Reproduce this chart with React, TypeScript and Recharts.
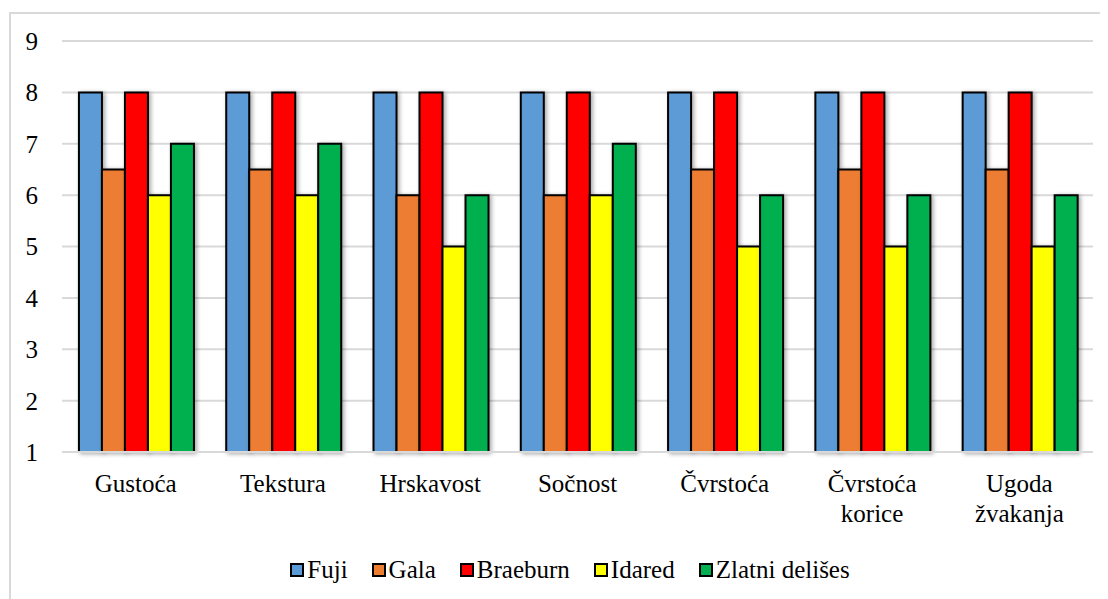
import { BarChart, Bar, XAxis, YAxis, CartesianGrid, Legend } from 'recharts'

const categories = ['Gustoća', 'Tekstura', 'Hrskavost', 'Sočnost', 'Čvrstoća', 'Čvrstoća korice', 'Ugoda žvakanja']
const fuji = [8, 8, 8, 8, 8, 8, 8]
const gala = [6.5, 6.5, 6, 6, 6.5, 6.5, 6.5]
const braeburn = [8, 8, 8, 8, 8, 8, 8]
const idared = [6, 6, 5, 6, 5, 5, 5]
const zlatni = [7, 7, 6, 7, 6, 6, 6]
const yTicks = [1, 2, 3, 4, 5, 6, 7, 8, 9]

const series = [
  { key: 'fuji', name: 'Fuji', color: '#5B9BD5' },
  { key: 'gala', name: 'Gala', color: '#ED7D31' },
  { key: 'braeburn', name: 'Braeburn', color: '#FF0000' },
  { key: 'idared', name: 'Idared', color: '#FFFF00' },
  { key: 'zlatni', name: 'Zlatni delišes', color: '#00B050' },
]

const data = categories.map((name, i) => ({
  name,
  fuji: fuji[i],
  gala: gala[i],
  braeburn: braeburn[i],
  idared: idared[i],
  zlatni: zlatni[i],
}))

const FONT = '"Liberation Serif", "Times New Roman", Times, serif'

// two-word categories go on two lines, like the original
function CategoryTick({ x, y, payload }: any) {
  const lines = String(payload.value).split(' ')
  return (
    <text x={x} y={y} textAnchor="middle" fontFamily={FONT} fontSize={25} fill="#000">
      {lines.map((l, i) => (
        <tspan key={i} x={x} dy={i === 0 ? 32 : 30}>{l}</tspan>
      ))}
    </text>
  )
}

function LegendContent() {
  return (
    <div style={{ display: 'flex', justifyContent: 'center', alignItems: 'center', height: 30, paddingLeft: 25, fontFamily: FONT, fontSize: 25, gap: 24 }}>
      {series.map((s) => (
        <div key={s.key} style={{ display: 'flex', alignItems: 'center' }}>
          <span style={{ width: 14, height: 14, background: s.color, border: '2px solid #000', boxSizing: 'border-box', marginRight: 3, display: 'inline-block' }} />
          <span>{s.name}</span>
        </div>
      ))}
    </div>
  )
}

export default function App() {
  return (
    <div style={{ position: 'relative', width: 1100, height: 591 }}>
      <div style={{ position: 'absolute', left: 1, top: 4, width: 1099, height: 600, borderTop: '2px solid #d9d9d9', borderLeft: '2px solid #d9d9d9', boxSizing: 'border-box' }} />
      <BarChart width={1100} height={591} data={data} margin={{ top: 33, right: 15, left: 14, bottom: 14 }} barCategoryGap="11.5%" barGap={0}>
        <defs>
          <filter id="shadow" x="-20%" y="-5%" width="150%" height="115%">
            <feDropShadow dx="2" dy="1" stdDeviation="2" floodColor="#000" floodOpacity="0.35" />
          </filter>
        </defs>
        <CartesianGrid vertical={false} stroke="#d9d9d9" strokeWidth={2} />
        <XAxis dataKey="name" tick={<CategoryTick />} tickLine={false} axisLine={{ stroke: '#d9d9d9', strokeWidth: 2 }} height={103} interval={0} />
        <YAxis domain={[1, 9]} ticks={yTicks} width={40} tickMargin={18} axisLine={false} tickLine={false} tick={{ fontSize: 25, fill: '#000', fontFamily: FONT }} />
        <Legend verticalAlign="bottom" content={<LegendContent />} />
        {series.map((s) => (
          <Bar key={s.key} dataKey={s.key} name={s.name} fill={s.color} stroke="#000" strokeWidth={2} filter="url(#shadow)" isAnimationActive={false} />
        ))}
      </BarChart>
    </div>
  )
}
